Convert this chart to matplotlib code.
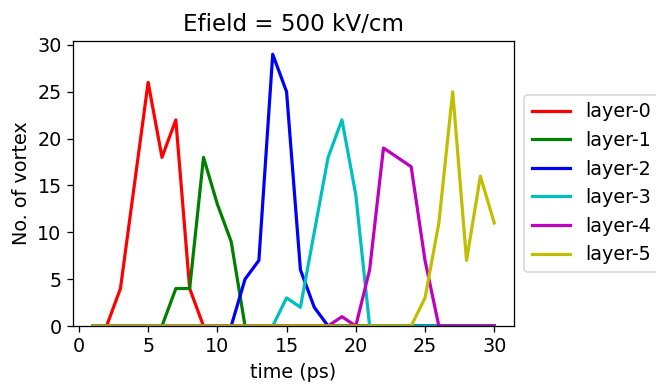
import numpy as np
import matplotlib
matplotlib.use("Agg")
import matplotlib.pyplot as plt

plt.rcParams['font.size'] = 12

# time steps (ps)
time_ps = np.arange(1, 31)

# vortex counts per layer
layer_0 = [0, 0, 4, 15, 26, 18, 22, 4, 0, 0, 0, 0, 0, 0, 0, 0, 0, 0, 0, 0, 0, 0, 0, 0, 0, 0, 0, 0, 0, 0]
layer_1 = [0, 0, 0, 0, 0, 0, 4, 4, 18, 13, 9, 0, 0, 0, 0, 0, 0, 0, 0, 0, 0, 0, 0, 0, 0, 0, 0, 0, 0, 0]
layer_2 = [0, 0, 0, 0, 0, 0, 0, 0, 0, 0, 0, 5, 7, 29, 25, 6, 2, 0, 0, 0, 0, 0, 0, 0, 0, 0, 0, 0, 0, 0]
layer_3 = [0, 0, 0, 0, 0, 0, 0, 0, 0, 0, 0, 0, 0, 0, 3, 2, 10, 18, 22, 14, 0, 0, 0, 0, 0, 0, 0, 0, 0, 0]
layer_4 = [0, 0, 0, 0, 0, 0, 0, 0, 0, 0, 0, 0, 0, 0, 0, 0, 0, 0, 1, 0, 6, 19, 18, 17, 7, 0, 0, 0, 0, 0]
layer_5 = [0, 0, 0, 0, 0, 0, 0, 0, 0, 0, 0, 0, 0, 0, 0, 0, 0, 0, 0, 0, 0, 0, 0, 0, 3, 11, 25, 7, 16, 11]

layers = [layer_0, layer_1, layer_2, layer_3, layer_4, layer_5]
colors = ['r', 'g', 'b', 'c', 'm', 'y']

fig = plt.figure(figsize=(656 / 115, 386 / 115), dpi=115)
ax = fig.add_axes([0.1108, 0.1554, 0.784 - 0.1108, 0.8946 - 0.1554])

for i, counts in enumerate(layers):
    ax.plot(time_ps, counts, color=colors[i], linewidth=2, label=f'layer-{i}')

ax.set_ylim(bottom=0)
ax.set_xlabel('time (ps)')
ax.set_ylabel('No. of vortex')
ax.set_title('Efield = 500 kV/cm')
ax.legend(loc='center left', bbox_to_anchor=(1.0, 0.5))

fig.savefig('out.png', dpi=115)
